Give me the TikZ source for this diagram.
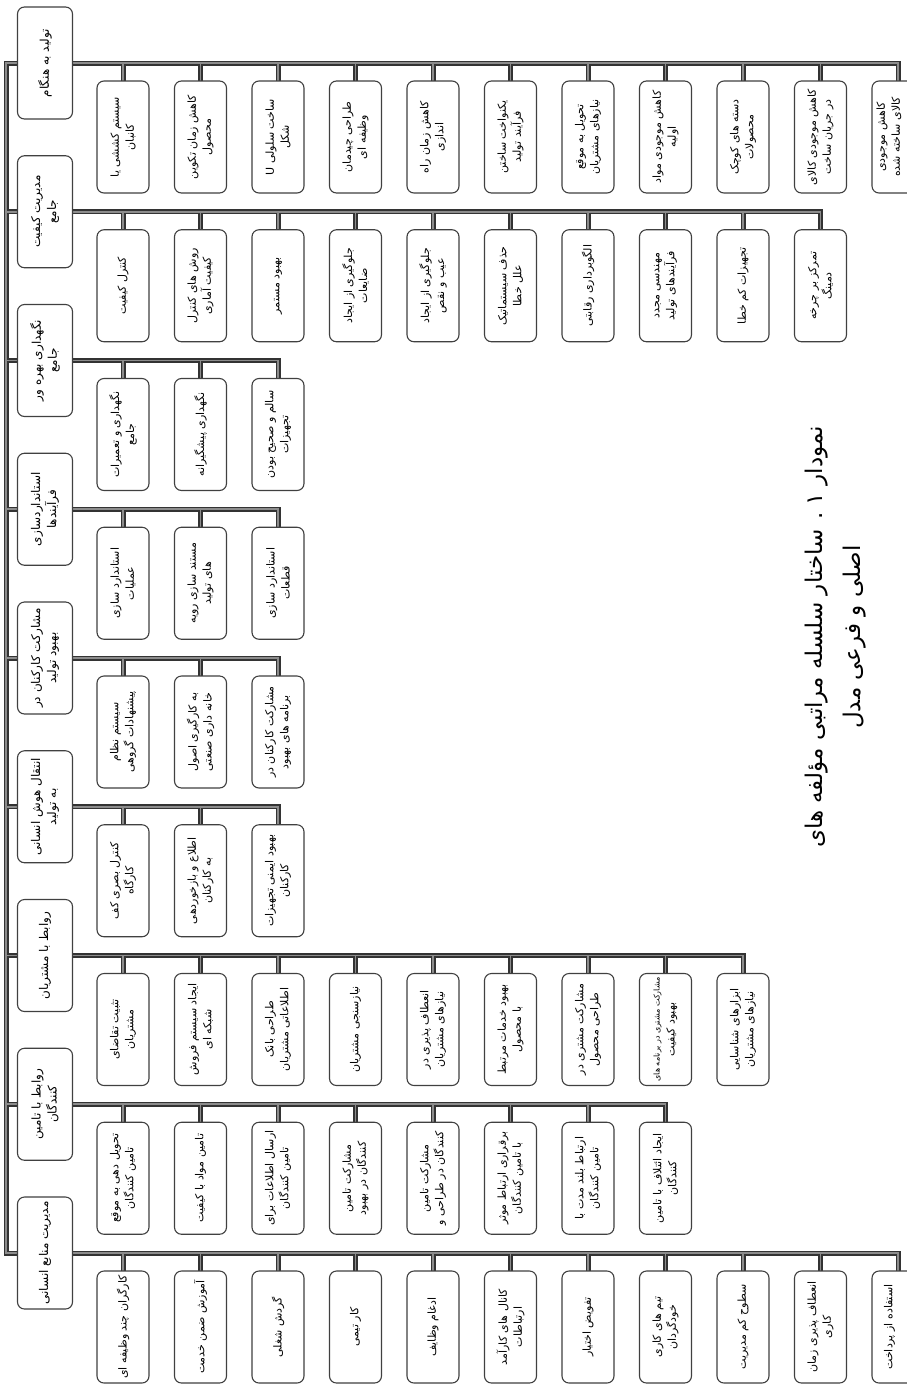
\documentclass[tikz,border=0pt]{standalone}
\usepackage{fontspec}
\newfontfamily\arabicfont[Script=Arabic]{DejaVu Sans}
\TeXXeTstate=1
\usetikzlibrary{backgrounds}
\newcommand\rl[1]{\beginR #1\endR}
\tikzset{
  box/.style={draw=black!75, line width=1.1pt, rounded corners=7pt, fill=white, rotate=90,
    align=center, inner sep=2pt, text=black,
    font=\arabicfont\fontsize{11}{15}\selectfont},
  childbox/.style={box, minimum width=112pt, minimum height=52pt},
  topbox/.style={box, minimum width=112pt, minimum height=55pt,
    font=\arabicfont\fontsize{12}{16}\selectfont},
  linkouter/.style={line width=5pt, black!80, line cap=rect},
  linkinner/.style={line width=1.8pt, black!45, line cap=rect},
  titletext/.style={rotate=90, align=center, text=black,
    font=\arabicfont\fontsize{23}{38}\selectfont},
}
\newcommand\grp[3]{%
  \foreach \t [count=\i] in {#3} {
    \node[childbox] (g#1c\i) at ({123+77.5*(\i-1)}, {#2+74}) {\t};
  }}
\newcommand\links[3]{%
  \draw[#1] (root#2) -- (t#2.north);
  \draw[#1] (t#2.south) -- (t#2.south -| g#2c#3) -- (g#2c#3.east);
  \foreach \i in {1,...,#3} {\draw[#1] (t#2.south -| g#2c\i) -- (g#2c\i.east);}
}
\newcommand\alllinks[1]{%
  \draw[#1] (root1) -- (root9);
  \links{#1}{1}{11}\links{#1}{2}{10}\links{#1}{3}{3}\links{#1}{4}{3}\links{#1}{5}{3}%
  \links{#1}{6}{3}\links{#1}{7}{9}\links{#1}{8}{8}\links{#1}{9}{11}}
\begin{document}
\begin{tikzpicture}[x=1pt,y=-1pt]
\useasboundingbox (0,0) rectangle (907,1398);
% root points of the nine group lines
\foreach \g in {1,...,9} { \coordinate (root\g) at (6, {63+148.75*(\g-1)}); }
% top level nodes
\node[topbox] (t1) at (45, 63) {\rl{تولید به هنگام}};
\node[topbox] (t2) at (45, 211.75) {\rl{مدیریت کیفیت}\\\rl{جامع}};
\node[topbox] (t3) at (45, 360.5) {\rl{نگهداری بهره ور}\\\rl{جامع}};
\node[topbox] (t4) at (45, 509.25) {\rl{استانداردسازی}\\\rl{فرآیندها}};
\node[topbox] (t5) at (45, 658) {\rl{مشارکت کارکنان در}\\\rl{بهبود تولید}};
\node[topbox] (t6) at (45, 806.75) {\rl{انتقال هوش انسانی}\\\rl{به تولید}};
\node[topbox] (t7) at (45, 955.5) {\rl{روابط با مشتریان}};
\node[topbox] (t8) at (45, 1104.25) {\rl{روابط با تامین}\\\rl{کنندگان}};
\node[topbox] (t9) at (45, 1253) {\rl{مدیریت منابع انسانی}};
% children
\grp{1}{63}{
 {\rl{سیستم کششی یا}\\\rl{کانبان}},
 {\rl{کاهش زمان تکوین}\\\rl{محصول}},
 {\rl{ساخت سلولی U}\\\rl{شکل}},
 {\rl{طراحی چیدمان}\\\rl{وظیفه ای}},
 {\rl{کاهش زمان راه}\\\rl{اندازی}},
 {\rl{یکنواخت ساختن}\\\rl{فرآیند تولید}},
 {\rl{تحویل به موقع}\\\rl{نیازهای مشتریان}},
 {\rl{کاهش موجودی مواد}\\\rl{اولیه}},
 {\rl{دسته های کوچک}\\\rl{محصولات}},
 {\rl{کاهش موجودی کالای}\\\rl{در جریان ساخت}},
 {\rl{کاهش موجودی}\\\rl{کالای ساخته شده}\\\strut}}
\grp{2}{211.75}{
 {\rl{کنترل کیفیت}},
 {\rl{روش های کنترل}\\\rl{کیفیت آماری}},
 {\rl{بهبود مستمر}},
 {\rl{جلوگیری از ایجاد}\\\rl{ضایعات}},
 {\rl{جلوگیری از ایجاد}\\\rl{عیب و نقص}},
 {\rl{حذف سیستماتیک}\\\rl{علل خطا}},
 {\rl{الگوبرداری رقابتی}},
 {\rl{مهندسی مجدد}\\\rl{فرآیندهای تولید}},
 {\rl{تجهیزات کم خطا}},
 {\rl{تمرکز بر چرخه}\\\rl{دمینگ}}}
\grp{3}{360.5}{
 {\rl{نگهداری و تعمیرات}\\\rl{جامع}},
 {\rl{نگهداری پیشگیرانه}},
 {\rl{سالم و صحیح بودن}\\\rl{تجهیزات}}}
\grp{4}{509.25}{
 {\rl{استاندارد سازی}\\\rl{عملیات}},
 {\rl{مستند سازی رویه}\\\rl{های تولید}},
 {\rl{استاندارد سازی}\\\rl{قطعات}}}
\grp{5}{658}{
 {\rl{سیستم نظام}\\\rl{پیشنهادات گروهی}},
 {\rl{به کارگیری اصول}\\\rl{خانه داری صنعتی}},
 {\rl{مشارکت کارکنان در}\\\rl{برنامه های بهبود}}}
\grp{6}{806.75}{
 {\rl{کنترل بصری کف}\\\rl{کارگاه}},
 {\rl{اطلاع و بازخوردهی}\\\rl{به کارکنان}},
 {\rl{بهبود ایمنی تجهیزات}\\\rl{کارکنان}}}
\grp{7}{955.5}{
 {\rl{تثبیت تقاضای}\\\rl{مشتریان}},
 {\rl{ایجاد سیستم فروش}\\\rl{شبکه ای}},
 {\rl{طراحی بانک}\\\rl{اطلاعاتی مشتریان}},
 {\rl{نیازسنجی مشتریان}},
 {\rl{انعطاف پذیری در}\\\rl{نیازهای مشتریان}},
 {\rl{بهبود خدمات مرتبط}\\\rl{با محصول}},
 {\rl{مشارکت مشتری در}\\\rl{طراحی محصول}},
 {{\fontsize{8}{15}\selectfont\rl{مشارکت مشتری در برنامه های}}\\\rl{بهبود کیفیت}},
 {\rl{ابزارهای شناسایی}\\\rl{نیازهای مشتریان}}}
\grp{8}{1104.25}{
 {\rl{تحویل دهی به موقع}\\\rl{تامین کنندگان}},
 {\rl{تامین مواد با کیفیت}},
 {\rl{ارسال اطلاعات برای}\\\rl{تامین کنندگان}},
 {\rl{مشارکت تامین}\\\rl{کنندگان در بهبود}},
 {\rl{مشارکت تامین}\\\rl{کنندگان در طراحی و}},
 {\rl{برقراری ارتباط موثر}\\\rl{با تامین کنندگان}},
 {\rl{ارتباط بلند مدت با}\\\rl{تامین کنندگان}},
 {\rl{ایجاد ائتلاف با تامین}\\\rl{کنندگان}}}
\grp{9}{1253}{
 {\rl{کارگران چند وظیفه ای}},
 {\rl{آموزش ضمن خدمت}},
 {\rl{گردش شغلی}},
 {\rl{کار تیمی}},
 {\rl{ادغام وظایف}},
 {\rl{کانال های کارآمد}\\\rl{ارتباطات}},
 {\rl{تفویض اختیار}},
 {\rl{تیم های کاری}\\\rl{خودگردان}},
 {\rl{سطوح کم مدیریت}},
 {\rl{انعطاف پذیری زمان}\\\rl{کاری}},
 {\rl{استفاده از پرداخت}\\\strut}}
% title
\node[titletext] (title) at (836, 637) {\rl{نمودار ۱ . ساختار سلسله مراتبی مؤلفه های}\\\rl{اصلی و فرعی مدل}};
% connectors behind the boxes
\begin{pgfonlayer}{background}
  \fill[white] (0,0) rectangle (907,1398);
  \alllinks{linkouter}
  \alllinks{linkinner}
\end{pgfonlayer}
\end{tikzpicture}
\end{document}
